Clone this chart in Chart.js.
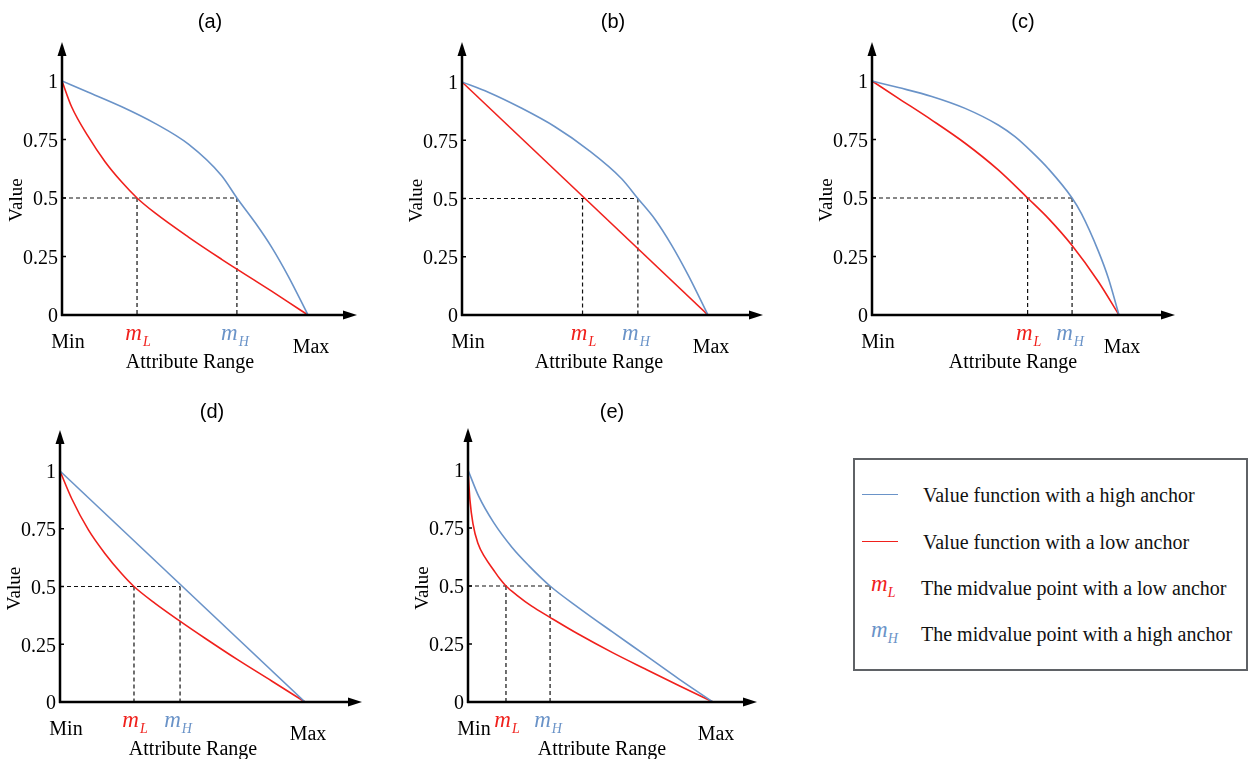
<!DOCTYPE html>
<html>
<head>
<meta charset="utf-8">
<script src="https://cdn.jsdelivr.net/npm/chart.js@4.4.1/dist/chart.umd.min.js"></script>
<style>
  body { margin: 0; background: #fff; width: 1248px; height: 759px; overflow: hidden; position: relative; font-family: "Liberation Serif", serif; }
  canvas.panel { position: absolute; }
  .legend { position: absolute; left: 853px; top: 458px; width: 391px; height: 209px; border: 2px solid #5f6266; }
  .legend .row { position: absolute; left: 0; font-size: 20px; color: #111; white-space: nowrap; line-height: 20px; }
  .legend .swatch { position: absolute; left: 7px; width: 36px; height: 0; border-top: 1.5px solid; }
  .legend .txt { position: absolute; }
  .legend .sym { position: absolute; font-style: italic; font-size: 23px; }
  .legend .sym sub { font-size: 14px; }
</style>
</head>
<body>
<canvas class="panel" id="pa"></canvas>
<canvas class="panel" id="pb"></canvas>
<canvas class="panel" id="pc"></canvas>
<canvas class="panel" id="pd"></canvas>
<canvas class="panel" id="pe"></canvas>

<div class="legend">
  <div class="swatch" style="top:34px; border-color:#6a93c8;"></div>
  <div class="row txt" style="left:68px; top:25px;">Value function with a high anchor</div>
  <div class="swatch" style="top:81px; border-color:#f0201c;"></div>
  <div class="row txt" style="left:68px; top:72px;">Value function with a low anchor</div>
  <div class="row sym" style="left:16px; top:114px; color:#f0201c;">m<sub>L</sub></div>
  <div class="row txt" style="left:66px; top:118px;">The midvalue point with a low anchor</div>
  <div class="row sym" style="left:16px; top:160px; color:#6a93c8;">m<sub>H</sub></div>
  <div class="row txt" style="left:66px; top:164px;">The midvalue point with a high anchor</div>
</div>

<script>
// values (x: Min = 0, Max = 1)
const panelTitles = ['(a)', '(b)', '(c)', '(d)', '(e)'];
const yTicks = [0, 0.25, 0.5, 0.75, 1];
const yTickLabels = ['0', '0.25', '0.5', '0.75', '1'];
const midLow = [0.305, 0.49, 0.63, 0.302, 0.155];
const midHigh = [0.711, 0.715, 0.81, 0.49, 0.335];

const highXa = [0, 0.107, 0.243, 0.378, 0.514, 0.649, 0.711, 0.785, 0.852, 0.92, 1];
const highYa = [1, 0.952, 0.89, 0.819, 0.73, 0.595, 0.5, 0.395, 0.29, 0.165, 0];
const lowXa = [0, 0.039, 0.107, 0.175, 0.243, 0.305, 0.378, 0.514, 0.649, 0.711, 0.785, 0.852, 0.92, 1];
const lowYa = [1, 0.89, 0.762, 0.655, 0.568, 0.5, 0.436, 0.333, 0.238, 0.196, 0.147, 0.102, 0.055, 0];

const highXb = [0, 0.107, 0.243, 0.378, 0.514, 0.649, 0.715, 0.785, 0.852, 0.92, 1];
const highYb = [1, 0.956, 0.887, 0.808, 0.708, 0.585, 0.5, 0.41, 0.3, 0.17, 0];
const lowXb = [0, 1];
const lowYb = [1, 0];

const highXc = [0, 0.107, 0.242, 0.377, 0.511, 0.579, 0.646, 0.714, 0.81, 0.848, 0.916, 0.957, 1];
const highYc = [1, 0.972, 0.934, 0.883, 0.812, 0.762, 0.698, 0.625, 0.5, 0.433, 0.274, 0.157, 0];
const lowXc = [0, 0.107, 0.242, 0.377, 0.511, 0.63, 0.714, 0.81, 0.916, 1];
const lowYc = [1, 0.926, 0.833, 0.734, 0.62, 0.5, 0.413, 0.297, 0.143, 0];

const highXd = [0, 1];
const highYd = [1, 0];
const lowXd = [0, 0.048, 0.116, 0.184, 0.252, 0.302, 0.388, 0.491, 0.592, 0.728, 0.864, 1];
const lowYd = [1, 0.88, 0.745, 0.642, 0.555, 0.5, 0.427, 0.349, 0.276, 0.181, 0.091, 0];

const highXe = [0, 0.044, 0.105, 0.18, 0.248, 0.335, 0.452, 0.588, 0.724, 0.86, 1];
const highYe = [1, 0.886, 0.773, 0.666, 0.588, 0.5, 0.406, 0.303, 0.202, 0.1, 0];
const lowXe = [0, 0.008, 0.02, 0.04, 0.07, 0.105, 0.13, 0.155, 0.2, 0.26, 0.333, 0.45, 0.588, 0.724, 0.86, 1];
const lowYe = [1, 0.87, 0.77, 0.685, 0.622, 0.568, 0.531, 0.5, 0.46, 0.413, 0.366, 0.293, 0.214, 0.142, 0.071, 0];

const highX = [highXa, highXb, highXc, highXd, highXe];
const highY = [highYa, highYb, highYc, highYd, highYe];
const lowX = [lowXa, lowXb, lowXc, lowXd, lowXe];
const lowY = [lowYa, lowYb, lowYc, lowYd, lowYe];

const BLUE = '#6a93c8';
const RED = '#f0201c';

// page geometry of each panel
const layout = [
  { id: 'pa', left: 0, top: 0, w: 400, h: 380, axisX: 62, maxX: 308, arrowX: 357, y0: 315, y1: 81, arrowY: 42, titleX: 210, titleY: 22, labelX: 190 },
  { id: 'pb', left: 400, top: 0, w: 400, h: 380, axisX: 462, maxX: 708, arrowX: 763, y0: 315, y1: 82, arrowY: 42, titleX: 613, titleY: 22, labelX: 599 },
  { id: 'pc', left: 800, top: 0, w: 448, h: 380, axisX: 872, maxX: 1119, arrowX: 1175, y0: 315, y1: 81, arrowY: 42, titleX: 1023, titleY: 22, labelX: 1013 },
  { id: 'pd', left: 0, top: 385, w: 400, h: 374, axisX: 60, maxX: 305, arrowX: 362, y0: 702, y1: 471, arrowY: 430, titleX: 212, titleY: 412, labelX: 193 },
  { id: 'pe', left: 400, top: 385, w: 420, h: 374, axisX: 468, maxX: 713, arrowX: 757, y0: 702, y1: 470, arrowY: 428, titleX: 612, titleY: 412, labelX: 602 }
];

function toPoints(xs, ys) {
  return xs.map((x, i) => ({ x: x, y: ys[i] }));
}

function drawMark(ctx, cx, cy, sub, color) {
  ctx.save();
  ctx.fillStyle = color;
  ctx.textBaseline = 'alphabetic';
  ctx.textAlign = 'left';
  ctx.font = 'italic 23px "Liberation Serif"';
  const mw = ctx.measureText('m').width;
  ctx.font = 'italic 14px "Liberation Serif"';
  const sw = ctx.measureText(sub).width;
  const x = cx - (mw + sw + 1) / 2;
  ctx.font = 'italic 23px "Liberation Serif"';
  ctx.fillText('m', x, cy + 5);
  ctx.font = 'italic 14px "Liberation Serif"';
  ctx.fillText(sub, x + mw + 1, cy + 11);
  ctx.restore();
}

function makeDecor(i, g) {
  return {
    id: 'decor' + i,
    beforeDatasetsDraw(chart) {
      const ctx = chart.ctx;
      const xs = chart.scales.x, ys = chart.scales.y;
      const yHalf = ys.getPixelForValue(0.5);
      const yZero = ys.getPixelForValue(0);
      const xL = xs.getPixelForValue(midLow[i]);
      const xH = xs.getPixelForValue(midHigh[i]);
      ctx.save();
      ctx.strokeStyle = '#111';
      ctx.lineWidth = 1.2;
      ctx.setLineDash([4, 3]);
      ctx.beginPath();
      ctx.moveTo(xs.getPixelForValue(0), yHalf);
      ctx.lineTo(xH, yHalf);
      ctx.moveTo(xL, yHalf);
      ctx.lineTo(xL, yZero);
      ctx.moveTo(xH, yHalf);
      ctx.lineTo(xH, yZero);
      ctx.stroke();
      ctx.restore();
    },
    afterDatasetsDraw(chart) {
      const ctx = chart.ctx;
      const xs = chart.scales.x, ys = chart.scales.y;
      const ox = xs.getPixelForValue(0);
      const oy = ys.getPixelForValue(0);
      const area = chart.chartArea;
      ctx.save();
      ctx.strokeStyle = '#000';
      ctx.fillStyle = '#000';
      ctx.lineWidth = 2.5;
      ctx.setLineDash([]);
      // axes
      ctx.beginPath();
      ctx.moveTo(ox, oy + 1);
      ctx.lineTo(ox, area.top + 10);
      ctx.moveTo(ox - 1, oy);
      ctx.lineTo(area.right - 10, oy);
      ctx.stroke();
      // arrow heads
      ctx.beginPath();
      ctx.moveTo(ox, area.top);
      ctx.lineTo(ox - 4.5, area.top + 14);
      ctx.lineTo(ox + 4.5, area.top + 14);
      ctx.closePath();
      ctx.fill();
      ctx.beginPath();
      ctx.moveTo(area.right, oy);
      ctx.lineTo(area.right - 14, oy - 4.5);
      ctx.lineTo(area.right - 14, oy + 4.5);
      ctx.closePath();
      ctx.fill();
      // y ticks and labels
      ctx.lineWidth = 1.5;
      ctx.font = '20px "Liberation Serif"';
      ctx.textAlign = 'right';
      ctx.textBaseline = 'middle';
      yTicks.forEach((v, k) => {
        const py = ys.getPixelForValue(v);
        if (v > 0 && v < 1) {
          ctx.beginPath();
          ctx.moveTo(ox, py);
          ctx.lineTo(ox + 4, py);
          ctx.stroke();
        }
        ctx.fillText(yTickLabels[k], ox - 4, py + 2);
      });
      // x labels
      ctx.textAlign = 'center';
      ctx.fillText('Min', ox + 6, oy + 28);
      ctx.fillText('Max', xs.getPixelForValue(1) + 3, oy + 33);
      ctx.fillText('Attribute Range', g.labelX - g.left, oy + 48);
      drawMark(ctx, xs.getPixelForValue(midLow[i]) + 1, oy + 20, 'L', RED);
      drawMark(ctx, xs.getPixelForValue(midHigh[i]) - 2, oy + 20, 'H', BLUE);
      // y title
      ctx.save();
      ctx.translate(ox - 45, ys.getPixelForValue(0.5) + 2);
      ctx.rotate(-Math.PI / 2);
      ctx.font = '19px "Liberation Serif"';
      ctx.fillStyle = '#000';
      ctx.textAlign = 'center';
      ctx.textBaseline = 'middle';
      ctx.fillText('Value', 0, 0);
      ctx.restore();
      // panel title
      ctx.font = '20px "Liberation Sans"';
      ctx.textAlign = 'center';
      ctx.textBaseline = 'middle';
      ctx.fillText(panelTitles[i], g.titleX - g.left, g.titleY - g.top);
      ctx.restore();
    }
  };
}

layout.forEach((g, i) => {
  const canvas = document.getElementById(g.id);
  canvas.style.left = g.left + 'px';
  canvas.style.top = g.top + 'px';
  canvas.style.width = g.w + 'px';
  canvas.style.height = g.h + 'px';
  canvas.width = g.w;
  canvas.height = g.h;

  new Chart(canvas.getContext('2d'), {
    type: 'line',
    data: {
      datasets: [
        {
          label: 'Value function with a high anchor',
          data: toPoints(highX[i], highY[i]),
          borderColor: BLUE,
          borderWidth: 1.6,
          pointRadius: 0,
          cubicInterpolationMode: 'monotone',
          fill: false
        },
        {
          label: 'Value function with a low anchor',
          data: toPoints(lowX[i], lowY[i]),
          borderColor: RED,
          borderWidth: 1.6,
          pointRadius: 0,
          cubicInterpolationMode: 'monotone',
          fill: false
        }
      ]
    },
    options: {
      responsive: false,
      animation: false,
      events: [],
      layout: {
        padding: {
          left: g.axisX - g.left,
          right: g.left + g.w - g.arrowX,
          top: g.arrowY - g.top,
          bottom: g.top + g.h - g.y0
        }
      },
      scales: {
        x: { type: 'linear', display: false, min: 0, max: (g.arrowX - g.axisX) / (g.maxX - g.axisX) },
        y: { type: 'linear', display: false, min: 0, max: (g.y0 - g.arrowY) / (g.y0 - g.y1) }
      },
      plugins: { legend: { display: false }, tooltip: { enabled: false } }
    },
    plugins: [makeDecor(i, g)]
  });
});
</script>
</body>
</html>
